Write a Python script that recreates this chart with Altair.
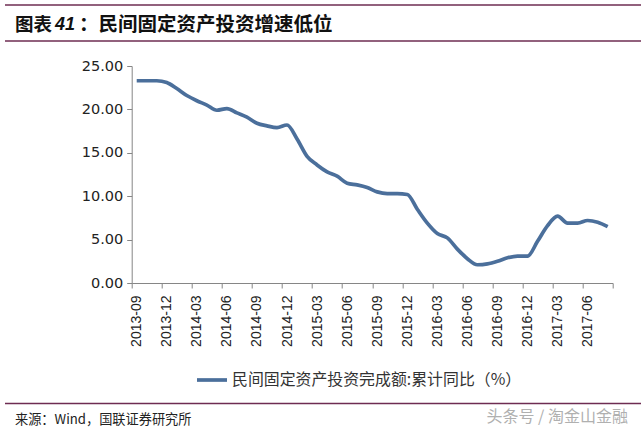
import altair as alt
import pandas as pd

# ---- data ----
months = [
    "2013-09", "2013-10", "2013-11", "2013-12",
    "2014-01", "2014-02", "2014-03", "2014-04", "2014-05", "2014-06",
    "2014-07", "2014-08", "2014-09", "2014-10", "2014-11", "2014-12",
    "2015-01", "2015-02", "2015-03", "2015-04", "2015-05", "2015-06",
    "2015-07", "2015-08", "2015-09", "2015-10", "2015-11", "2015-12",
    "2016-01", "2016-02", "2016-03", "2016-04", "2016-05", "2016-06",
    "2016-07", "2016-08", "2016-09", "2016-10", "2016-11", "2016-12",
    "2017-01", "2017-02", "2017-03", "2017-04", "2017-05", "2017-06",
    "2017-07", "2017-08",
]
values = [
    23.3, 23.3, 23.3, 23.1,
    22.4, 21.6, 21.0, 20.5, 19.9, 20.1,
    19.6, 19.1, 18.4, 18.1, 17.9, 18.2,
    16.6, 14.6, 13.6, 12.8, 12.3, 11.5,
    11.3, 11.0, 10.5, 10.3, 10.3, 10.2,
    8.5, 6.9, 5.7, 5.2, 3.9, 2.8,
    2.1, 2.2, 2.5, 2.9, 3.1, 3.1,
    4.8, 6.6, 7.7, 6.9, 6.9, 7.2,
    7.0, 6.5,
]
tick_labels = [
    "2013-09", "2013-12", "2014-03", "2014-06", "2014-09", "2014-12",
    "2015-03", "2015-06", "2015-09", "2015-12", "2016-03", "2016-06",
    "2016-09", "2016-12", "2017-03", "2017-06",
]
series_name = "民间固定资产投资完成额:累计同比（%）"
title_a = "图表"
title_num = "41"
title_b = "：民间固定资产投资增速低位"
source_text = "来源：Wind，国联证券研究所"
watermark_text = "头条号 / 淘金山金融"

# ---- layout constants ----
W, H = 481, 217
LEFT, TOP = 131.7, 66
LINE_COLOR = "#4b6f9b"
RULE_COLOR = "#6e2c52"
CJK = "Noto Sans CJK SC"

df = pd.DataFrame({"idx": list(range(len(months))), "month": months,
                   "value": values, "series": series_name})

tick_vals = [i * 3 - 0.5 for i in range(len(tick_labels) + 1)]
label_js = "[" + ",".join("'%s'" % t for t in tick_labels) + "]"
label_expr = "(round((datum.value + 0.5) / 3) < %d) ? %s[round((datum.value + 0.5) / 3)] : ''" % (
    len(tick_labels), label_js)

line = alt.Chart(df).mark_line(strokeWidth=3.7, interpolate="monotone").encode(
    x=alt.X("idx:Q",
            scale=alt.Scale(domain=[-0.5, len(months) - 0.5], nice=False, zero=False),
            axis=alt.Axis(values=tick_vals, labelExpr=label_expr, labelAngle=270,
                          labelOffset=5, labelPadding=7, tickSize=5,
                          labelFont="Liberation Sans", labelFontSize=14,
                          labelColor="#222", domainColor="#868686", tickColor="#868686",
                          grid=False, title=None, labelOverlap=False)),
    y=alt.Y("value:Q",
            scale=alt.Scale(domain=[0, 25], nice=False),
            axis=alt.Axis(values=[0, 5, 10, 15, 20, 25], format=".2f", tickSize=5,
                          labelPadding=4, labelFont="DejaVu Sans", labelFontSize=14.5,
                          labelColor="#222", domainColor="#868686", tickColor="#868686",
                          grid=False, title=None)),
    color=alt.Color("series:N",
                    scale=alt.Scale(domain=[series_name], range=[LINE_COLOR]),
                    legend=alt.Legend(orient="none", legendX=195 - LEFT, legendY=372 - 9 - TOP,
                                      title=None, symbolType="stroke", symbolStrokeWidth=3.7,
                                      symbolSize=900, labelFont=CJK, labelFontSize=15.9,
                                      labelColor="#333", labelLimit=0, labelOffset=3,
                                      padding=0)),
)

def text_layer(txt, x, y, size, weight="normal", font=CJK, color="#111", style="normal"):
    return alt.Chart(pd.DataFrame({"t": [txt]})).mark_text(
        align="left", baseline="middle", fontSize=size, fontWeight=weight,
        font=font, color=color, fontStyle=style
    ).encode(text="t:N", x=alt.value(x - LEFT), y=alt.value(y - TOP))

def hrule(y):
    return alt.Chart(pd.DataFrame({"r": [0]})).mark_rule(
        color=RULE_COLOR, strokeWidth=1.5
    ).encode(x=alt.value(5 - LEFT), x2=alt.value(641 - LEFT), y=alt.value(y - TOP))

layers = [
    line,
    hrule(5), hrule(41), hrule(403.5),
    text_layer(title_a, 15, 24.5, 18.5, "bold"),
    text_layer(title_num, 55, 24.5, 18, "bold", font="Liberation Sans", style="italic"),
    text_layer(title_b, 79, 24.5, 19.5, "bold"),
    text_layer(source_text, 15, 420, 13.2, color="#222"),
    text_layer(watermark_text, 486.5, 417, 16, color="#b0b0b0"),
]

chart = alt.layer(*layers).properties(
    width=W, height=H,
    autosize=alt.AutoSizeParams(type="none"),
    padding={"left": LEFT, "top": TOP, "right": 641 - LEFT - W, "bottom": 429 - TOP - H},
    background="white",
).configure_view(stroke=None)

chart.save("out.html", embed_options={"renderer": "svg", "actions": False})
